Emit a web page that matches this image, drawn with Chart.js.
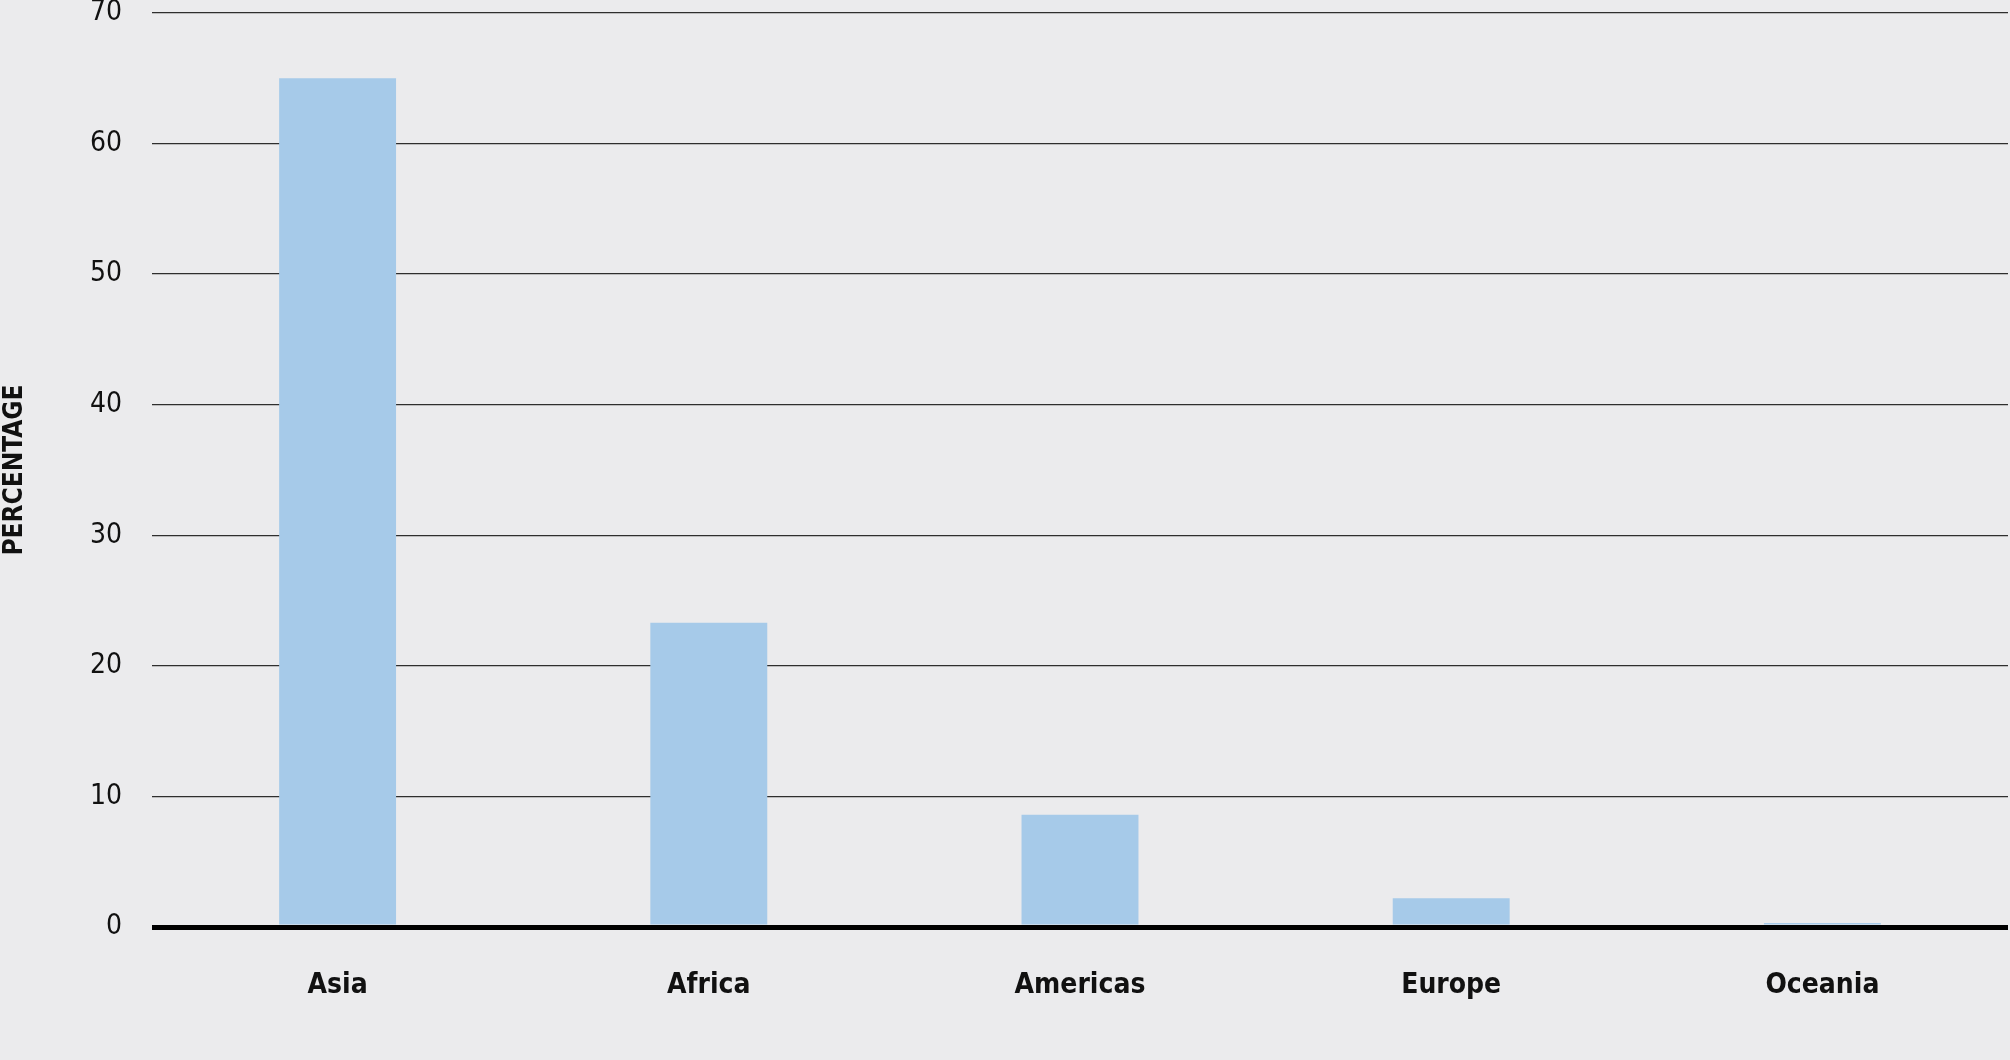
<!DOCTYPE html>
<html>
<head>
<meta charset="utf-8">
<script src="https://cdn.jsdelivr.net/npm/chart.js@4/dist/chart.umd.min.js"></script>
<style>
  html, body { margin: 0; padding: 0; background: #ebebed; }
  #wrap { width: 2010px; height: 1060px; }
</style>
</head>
<body>
<div id="wrap"><canvas id="myChart"></canvas></div>
<script>
const regions = ['Asia', 'Africa', 'Americas', 'Europe', 'Oceania'];
const shares = [65.0, 23.3, 8.6, 2.2, 0.3];
const yTicks = [0, 10, 20, 30, 40, 50, 60, 70];

const fontFamily = "'Liberation Sans Narrow', 'DejaVu Sans Condensed', 'Roboto', sans-serif";

const data = {
  labels: regions,
  datasets: [
    {
      label: 'Percentage',
      backgroundColor: '#a6cae9',
      data: shares,
      barPercentage: 0.315,
      categoryPercentage: 1,
    },
  ],
};

const config = {
  type: 'bar',
  data,
  options: {
    responsive: true,
    maintainAspectRatio: false,
    animation: false,
    layout: {
      padding: { top: 13, right: 2, bottom: 0, left: 0 },
    },
    plugins: {
      legend: { display: false },
      tooltip: { enabled: false },
    },
    scales: {
      x: {
        grid: { display: false, drawTicks: false },
        border: { display: false },
        afterFit: axis => {
          axis.height = 133;
        },
        ticks: {
          color: '#111',
          padding: 42,
          font: { family: fontFamily, size: 28, weight: 'bold' },
        },
      },
      y: {
        min: 0,
        max: 70,
        afterBuildTicks: axis => {
          axis.ticks = yTicks.map(v => ({ value: v }));
        },
        afterFit: axis => {
          axis.width = 152;
          // let the top label hang over the edge like in the original
          axis.paddingTop = 0;
        },
        grid: {
          drawTicks: false,
          color: ctx => (ctx.tick && ctx.tick.value === 0 ? '#000' : '#2e2e2e'),
          lineWidth: ctx => (ctx.tick && ctx.tick.value === 0 ? 5 : 1.3),
        },
        border: { display: false },
        ticks: {
          color: '#111',
          padding: 30,
          font: { family: fontFamily, size: 28 },
        },
        title: {
          display: true,
          text: 'PERCENTAGE',
          color: '#111',
          padding: 0,
          font: { family: fontFamily, size: 26, weight: 'bold' },
        },
      },
    },
  },
};

var myChart = new Chart(document.getElementById('myChart'), config);
</script>
</body>
</html>
